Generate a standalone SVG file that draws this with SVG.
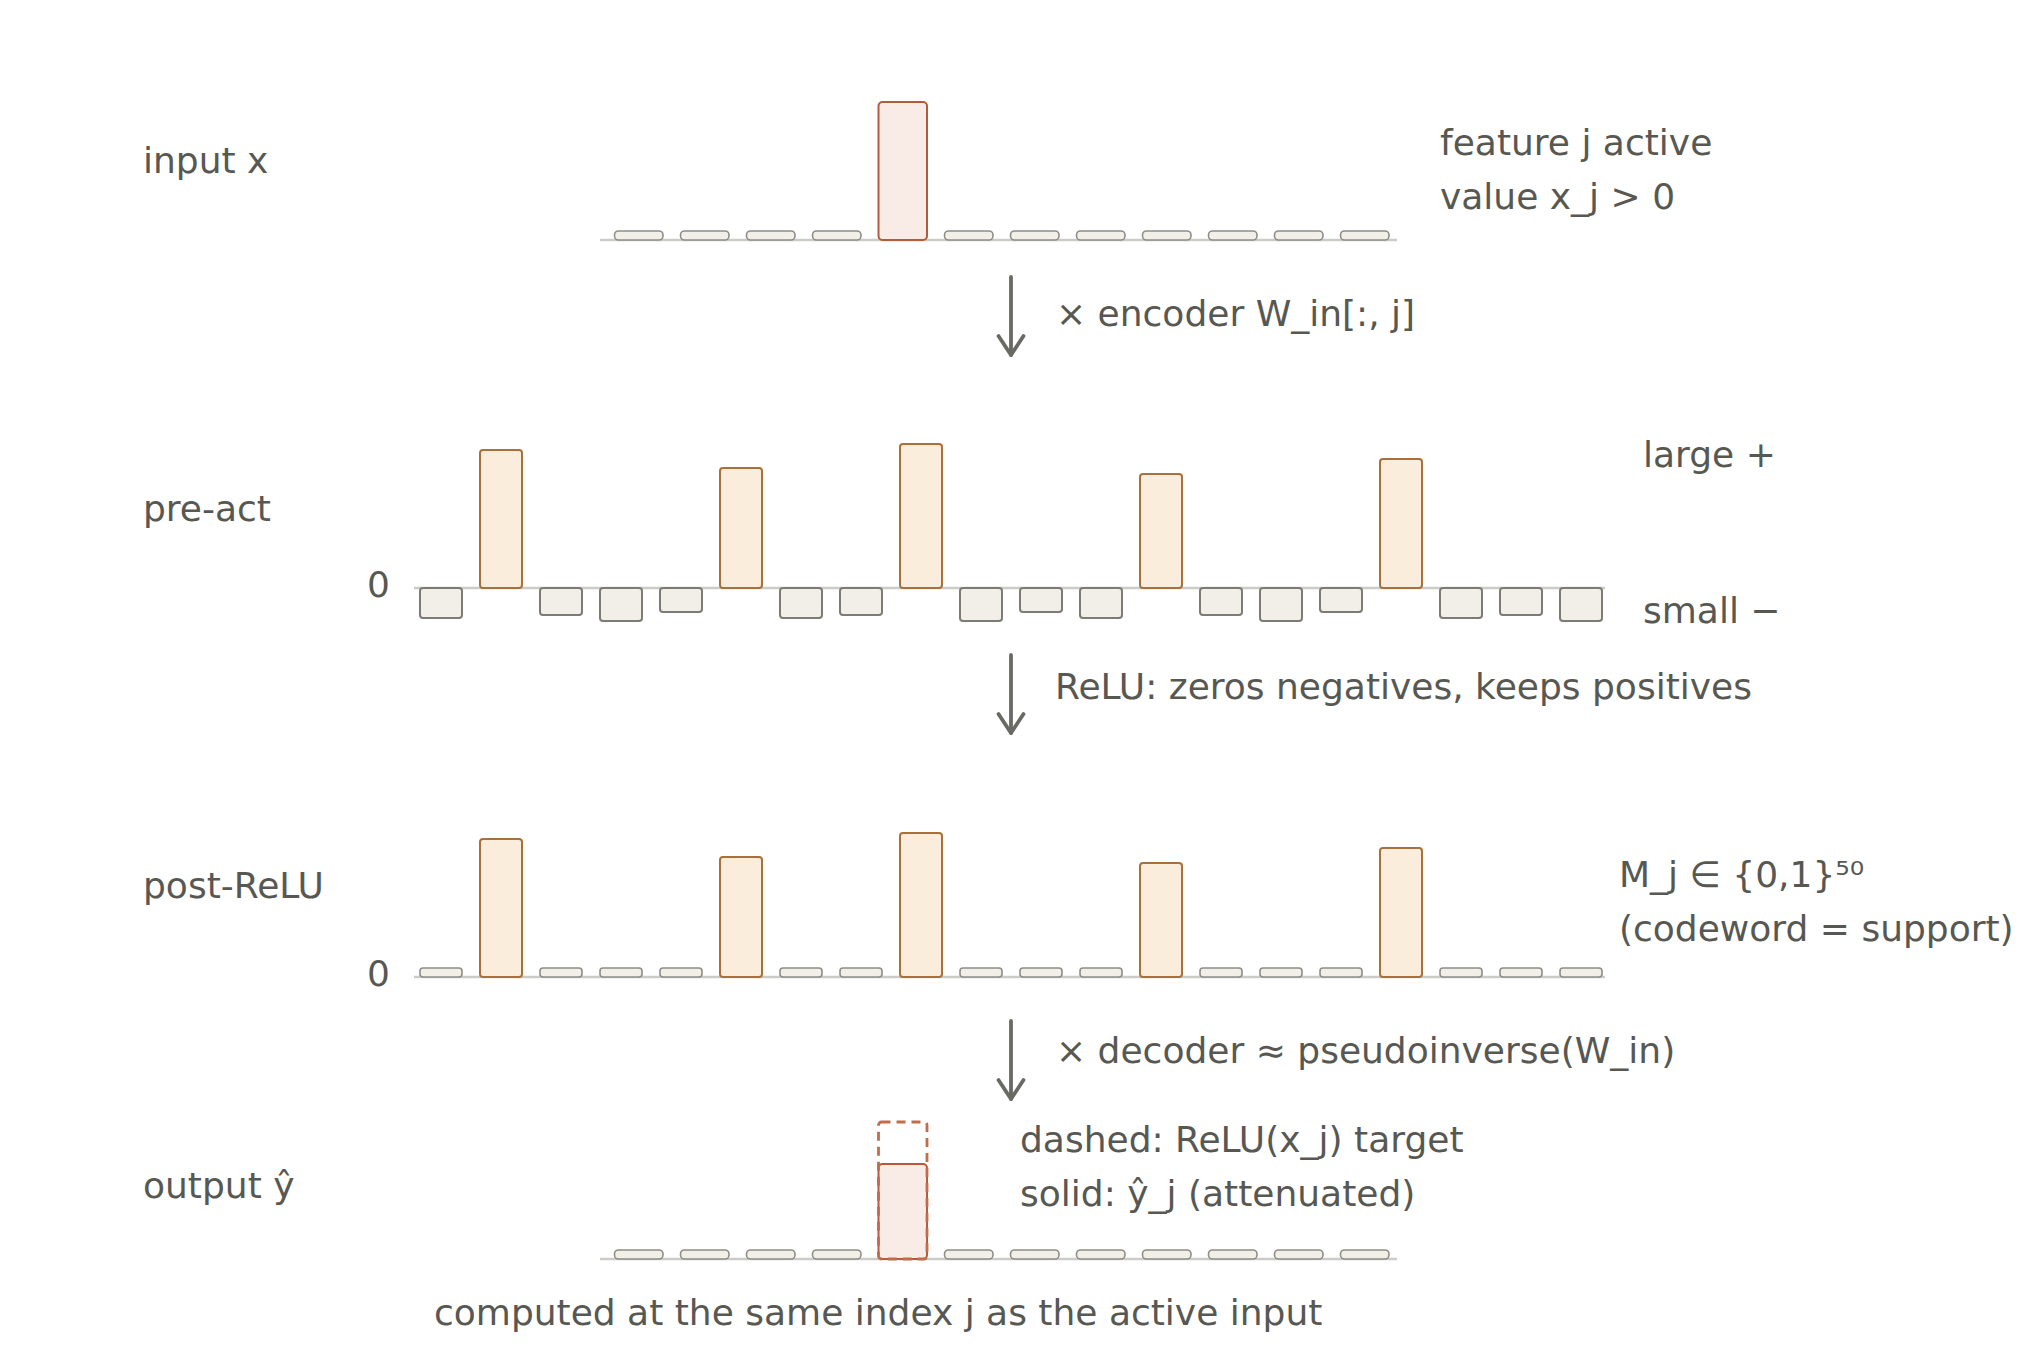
<svg xmlns="http://www.w3.org/2000/svg" width="2040" height="1356" viewBox="0 0 2040 1356">
<style>
text{font-family:"DejaVu Sans","Liberation Sans",sans-serif;font-size:36px;fill:#585853}
.base{stroke:#cbcbc8;stroke-width:2.5;fill:none}
.gray{fill:#f2efe8;stroke:#7c7b74;stroke-width:2}
.grays{fill:#f2efe8;stroke:#8e8d86;stroke-width:1.6}
.pos{fill:#faeddb;stroke:#a8703a;stroke-width:2}
.hot{fill:#f9ece7;stroke:#b55a3c;stroke-width:2}
.dash{fill:none;stroke:#c26c4c;stroke-width:2.8;stroke-dasharray:9 6}
.arrow{stroke:#6a6a64;stroke-width:3.8;fill:none;stroke-linecap:round;marker-end:url(#ah)}
</style>
<defs>
<marker id="ah" viewBox="-22 -15 26 30" markerWidth="26" markerHeight="30" refX="0" refY="0" orient="auto" markerUnits="userSpaceOnUse">
<path d="M-19,-12.5 L0,0 L-19,12.5" fill="none" stroke="#6a6a64" stroke-width="3.8" stroke-linecap="round" stroke-linejoin="round"/>
</marker>
</defs>
<rect width="2040" height="1356" fill="#ffffff"/>

<g id="row-input">
<text x="143" y="173">input x</text>
<line class="base" x1="600" y1="240" x2="1397" y2="240"/>
<rect class="grays" x="614.5" y="231" width="48.5" height="9" rx="4"/>
<rect class="grays" x="680.5" y="231" width="48.5" height="9" rx="4"/>
<rect class="grays" x="746.5" y="231" width="48.5" height="9" rx="4"/>
<rect class="grays" x="812.5" y="231" width="48.5" height="9" rx="4"/>
<rect class="hot" x="878.5" y="102" width="48.5" height="138" rx="4"/>
<rect class="grays" x="944.5" y="231" width="48.5" height="9" rx="4"/>
<rect class="grays" x="1010.5" y="231" width="48.5" height="9" rx="4"/>
<rect class="grays" x="1076.5" y="231" width="48.5" height="9" rx="4"/>
<rect class="grays" x="1142.5" y="231" width="48.5" height="9" rx="4"/>
<rect class="grays" x="1208.5" y="231" width="48.5" height="9" rx="4"/>
<rect class="grays" x="1274.5" y="231" width="48.5" height="9" rx="4"/>
<rect class="grays" x="1340.5" y="231" width="48.5" height="9" rx="4"/>
<text x="1440" y="155">feature j active</text>
<text x="1440" y="209">value x_j &gt; 0</text>
</g>

<g id="row-preact">
<text x="143" y="521">pre-act</text>
<text x="390" y="597" text-anchor="end">0</text>
<line class="base" x1="414" y1="588" x2="1605" y2="588"/>
<rect class="gray" x="420" y="588" width="42" height="30" rx="3"/>
<rect class="pos" x="480" y="450" width="42" height="138" rx="3"/>
<rect class="gray" x="540" y="588" width="42" height="27" rx="3"/>
<rect class="gray" x="600" y="588" width="42" height="33" rx="3"/>
<rect class="gray" x="660" y="588" width="42" height="24" rx="3"/>
<rect class="pos" x="720" y="468" width="42" height="120" rx="3"/>
<rect class="gray" x="780" y="588" width="42" height="30" rx="3"/>
<rect class="gray" x="840" y="588" width="42" height="27" rx="3"/>
<rect class="pos" x="900" y="444" width="42" height="144" rx="3"/>
<rect class="gray" x="960" y="588" width="42" height="33" rx="3"/>
<rect class="gray" x="1020" y="588" width="42" height="24" rx="3"/>
<rect class="gray" x="1080" y="588" width="42" height="30" rx="3"/>
<rect class="pos" x="1140" y="474" width="42" height="114" rx="3"/>
<rect class="gray" x="1200" y="588" width="42" height="27" rx="3"/>
<rect class="gray" x="1260" y="588" width="42" height="33" rx="3"/>
<rect class="gray" x="1320" y="588" width="42" height="24" rx="3"/>
<rect class="pos" x="1380" y="459" width="42" height="129" rx="3"/>
<rect class="gray" x="1440" y="588" width="42" height="30" rx="3"/>
<rect class="gray" x="1500" y="588" width="42" height="27" rx="3"/>
<rect class="gray" x="1560" y="588" width="42" height="33" rx="3"/>
<text x="1643" y="467">large +</text>
<text x="1643" y="623">small −</text>
</g>

<g id="row-postrelu">
<text x="143" y="898">post-ReLU</text>
<text x="390" y="986" text-anchor="end">0</text>
<line class="base" x1="414" y1="977" x2="1605" y2="977"/>
<rect class="grays" x="420" y="968" width="42" height="9" rx="3"/>
<rect class="pos" x="480" y="839" width="42" height="138" rx="3"/>
<rect class="grays" x="540" y="968" width="42" height="9" rx="3"/>
<rect class="grays" x="600" y="968" width="42" height="9" rx="3"/>
<rect class="grays" x="660" y="968" width="42" height="9" rx="3"/>
<rect class="pos" x="720" y="857" width="42" height="120" rx="3"/>
<rect class="grays" x="780" y="968" width="42" height="9" rx="3"/>
<rect class="grays" x="840" y="968" width="42" height="9" rx="3"/>
<rect class="pos" x="900" y="833" width="42" height="144" rx="3"/>
<rect class="grays" x="960" y="968" width="42" height="9" rx="3"/>
<rect class="grays" x="1020" y="968" width="42" height="9" rx="3"/>
<rect class="grays" x="1080" y="968" width="42" height="9" rx="3"/>
<rect class="pos" x="1140" y="863" width="42" height="114" rx="3"/>
<rect class="grays" x="1200" y="968" width="42" height="9" rx="3"/>
<rect class="grays" x="1260" y="968" width="42" height="9" rx="3"/>
<rect class="grays" x="1320" y="968" width="42" height="9" rx="3"/>
<rect class="pos" x="1380" y="848" width="42" height="129" rx="3"/>
<rect class="grays" x="1440" y="968" width="42" height="9" rx="3"/>
<rect class="grays" x="1500" y="968" width="42" height="9" rx="3"/>
<rect class="grays" x="1560" y="968" width="42" height="9" rx="3"/>
<text x="1619" y="887">M_j ∈ {0,1}⁵⁰</text>
<text x="1619" y="941">(codeword = support)</text>
</g>

<g id="row-output">
<text x="143" y="1198">output ŷ</text>
<line class="base" x1="600" y1="1259" x2="1397" y2="1259"/>
<rect class="grays" x="614.5" y="1250" width="48.5" height="9" rx="4"/>
<rect class="grays" x="680.5" y="1250" width="48.5" height="9" rx="4"/>
<rect class="grays" x="746.5" y="1250" width="48.5" height="9" rx="4"/>
<rect class="grays" x="812.5" y="1250" width="48.5" height="9" rx="4"/>
<rect class="hot" x="878.5" y="1164" width="48.5" height="95" rx="4"/>
<rect class="dash" x="878.5" y="1122" width="48.5" height="137" rx="3"/>
<rect class="grays" x="944.5" y="1250" width="48.5" height="9" rx="4"/>
<rect class="grays" x="1010.5" y="1250" width="48.5" height="9" rx="4"/>
<rect class="grays" x="1076.5" y="1250" width="48.5" height="9" rx="4"/>
<rect class="grays" x="1142.5" y="1250" width="48.5" height="9" rx="4"/>
<rect class="grays" x="1208.5" y="1250" width="48.5" height="9" rx="4"/>
<rect class="grays" x="1274.5" y="1250" width="48.5" height="9" rx="4"/>
<rect class="grays" x="1340.5" y="1250" width="48.5" height="9" rx="4"/>
<text x="1020" y="1152">dashed: ReLU(x_j) target</text>
<text x="1020" y="1206">solid: ŷ_j (attenuated)</text>
<text x="434" y="1325">computed at the same index j as the active input</text>
</g>

<g id="connectors">
<line class="arrow" x1="1011" y1="277" x2="1011" y2="355"/>
<text x="1056" y="326">× encoder W_in[:, j]</text>
<line class="arrow" x1="1011" y1="655" x2="1011" y2="733"/>
<text x="1055" y="699">ReLU: zeros negatives, keeps positives</text>
<line class="arrow" x1="1011" y1="1021" x2="1011" y2="1099"/>
<text x="1056" y="1063">× decoder ≈ pseudoinverse(W_in)</text>
</g>
</svg>
